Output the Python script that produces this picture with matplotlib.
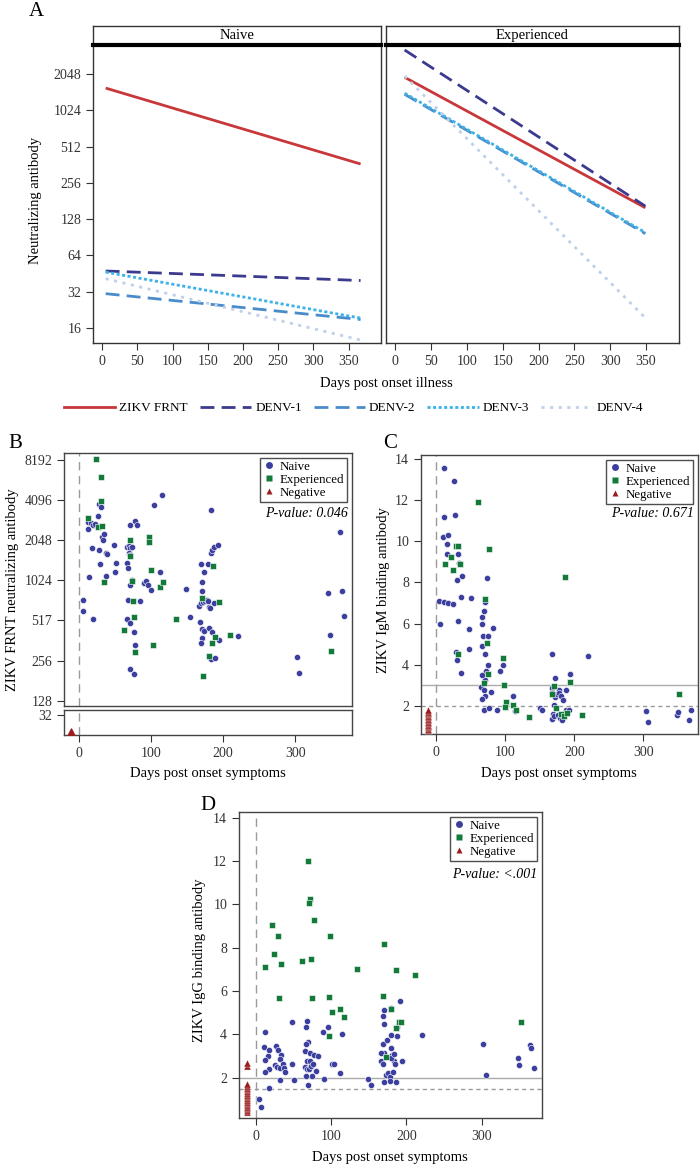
import numpy as np
import matplotlib
matplotlib.use("Agg")
import matplotlib.pyplot as plt
from matplotlib.lines import Line2D

plt.rcParams['font.family'] = ['Liberation Serif', 'DejaVu Serif']

W, H = 700, 1165

# ---------------- panel A: fitted lines ----------------
series_names = ["ZIKV FRNT", "DENV-1", "DENV-2", "DENV-3", "DENV-4"]
naive_days = [5, 367]
naive_start = [1565, 47.5, 30.8, 46.5, 41]
naive_end = [367, 39.6, 18.8, 19.3, 12.7]
exp_days = [13, 349]
exp_start = [1924, 3240, 1390, 1420, 1970]
exp_end = [159, 164, 97, 99, 19.4]
a_yticks = [16, 32, 64, 128, 256, 512, 1024, 2048]
a_xticks = [0, 50, 100, 150, 200, 250, 300, 350]

# ---------------- panel B: FRNT titres ----------------
b_naive_day = [6, 6, 12, 13, 16, 19, 22, 14, 19, 18, 26, 27, 28, 31, 29, 32, 33, 34, 37, 39,
               37, 48, 51, 50, 66, 68, 67, 69, 71, 73, 69, 70, 71, 77, 81, 68, 84, 71, 74, 67,
               70, 76, 78, 70, 76, 90, 93, 96, 100, 104, 115, 112, 149, 154, 168, 169, 170, 171, 167, 169,
               172, 175, 177, 179, 181, 182, 188, 174, 179, 183, 183, 184, 187, 193, 171, 173, 170, 169, 181, 185,
               194, 183, 189, 220, 302, 306, 346, 365, 368, 348, 363]
b_naive_val = [730, 600, 2470, 2820, 2740, 2660, 2700, 1075, 523, 1780, 3100, 1720, 3800, 3660, 1365, 2150, 2050, 2280, 1630, 1600,
               1095, 1885, 1380, 1190, 1380, 1260, 1830, 1850, 1780, 1830, 1650, 1590, 2660, 2840, 2660, 730, 720, 940, 1025, 526,
               487, 422, 335, 220, 204, 982, 1010, 940, 867, 3740, 4440, 1190, 880, 543, 502, 1365, 1000, 850, 657, 687,
               704, 712, 729, 720, 648, 630, 687, 1185, 1365, 3430, 1630, 1730, 1810, 1885, 439, 428, 380, 347, 452, 422,
               367, 265, 269, 391, 274, 208, 826, 850, 553, 396, 2350]
b_exp_day = [23, 31, 31, 13, 26, 32, 35, 70, 70, 74, 75, 76, 62, 77, 97, 97, 100, 112, 117, 102,
             134, 186, 170, 194, 189, 185, 180, 172, 210, 350]
b_exp_val = [8300, 6110, 4010, 3020, 2590, 2630, 995, 2040, 1570, 1020, 720, 543, 436, 297, 2180, 1975, 1225, 907, 995, 335,
             525, 1305, 750, 710, 385, 350, 278, 198, 399, 302]
b_neg_day = [-11]
b_neg_val = [24]
b_yticks = [128, 256, 517, 1024, 2048, 4096, 8192]

# ---------------- panel C: IgM ----------------
c_naive_day = [12, 26, 12, 27, 10, 17, 15, 16, 32, 33, 30, 38, 4, 12, 17, 25, 36, 50, 6, 31,
               47, 28, 30, 36, 47, 73, 70, 69, 67, 67, 68, 75, 82, 67, 70, 75, 72, 71, 67, 65,
               69, 71, 66, 80, 92, 96, 98, 69, 77, 88, 111, 114, 150, 153, 167, 172, 193, 168, 168, 172,
               175, 178, 178, 180, 188, 184, 171, 169, 167, 171, 176, 179, 182, 184, 188, 192, 220, 303, 307, 348,
               350, 369, 366]
c_naive_val = [13.58, 12.96, 11.17, 11.30, 10.23, 10.29, 9.89, 9.40, 9.37, 8.96, 8.13, 8.31, 7.12, 7.04, 7.01, 6.96, 7.30, 7.25, 5.98, 6.11,
               5.72, 4.62, 4.23, 3.61, 4.75, 8.23, 7.06, 6.63, 5.98, 6.31, 5.40, 5.40, 5.79, 4.89, 4.54, 4.00, 3.71, 3.27, 3.48, 2.91,
               2.78, 2.46, 2.34, 2.65, 3.67, 4.00, 2.99, 1.80, 1.89, 1.77, 2.47, 1.72, 1.89, 1.80, 4.54, 3.35, 3.53, 2.85, 2.63, 2.42,
               2.55, 2.78, 2.63, 2.47, 2.75, 2.26, 2.02, 1.61, 1.33, 1.50, 1.53, 1.41, 1.28, 1.61, 1.77, 1.80, 4.44, 1.74, 1.20, 1.53,
               1.67, 1.77, 1.28]
c_exp_day = [60, 13, 21, 24, 29, 31, 34, 76, 70, 31, 74, 75, 69, 97, 98, 101, 99, 111, 116, 135,
             186, 193, 170, 167, 173, 180, 185, 190, 211, 352]
c_exp_val = [11.90, 8.91, 9.24, 8.59, 9.79, 9.76, 8.88, 9.64, 7.19, 4.54, 5.06, 3.53, 3.12, 4.33, 3.01, 2.16, 1.93, 2.02, 1.80, 1.45,
             8.28, 3.15, 2.94, 2.55, 1.90, 1.61, 1.48, 1.64, 1.53, 2.55]
c_neg_val = [0.8, 0.87, 0.94, 1.01, 1.08, 1.15, 1.22, 1.29, 1.36, 1.43, 1.5, 1.57, 1.64, 1.71, 1.78]
c_neg_day = [-12] * len(c_neg_val)

# ---------------- panel D: IgG ----------------
d_naive_day = [13, 11, 18, 16, 13, 18, 13, 18, 5, 7, 27, 30, 34, 32, 26, 28, 32, 36, 38, 39,
               33, 48, 48, 51, 68, 67, 69, 67, 66, 72, 77, 83, 68, 72, 66, 68, 71, 74, 76, 80,
               67, 75, 70, 89, 96, 91, 101, 104, 112, 114, 149, 153, 171, 180, 192, 169, 171, 169, 170, 175,
               180, 180, 181, 167, 166, 169, 173, 176, 178, 182, 184, 185, 180, 183, 187, 188, 194, 171, 178, 186,
               221, 302, 306, 348, 349, 364, 366, 369]
d_naive_val = [4.10, 3.42, 3.30, 2.99, 2.82, 2.39, 2.27, 1.53, 1.01, 0.67, 3.44, 3.30, 3.07, 2.85, 2.58, 2.48, 2.44, 2.64, 2.44, 2.25,
               1.90, 4.59, 2.62, 1.90, 4.62, 4.33, 3.64, 3.56, 3.24, 3.13, 3.05, 3.02, 2.76, 2.76, 2.51, 2.39, 2.39, 2.54, 2.64, 2.33,
               2.08, 2.08, 1.67, 4.13, 4.32, 1.93, 2.62, 2.62, 2.21, 4.01, 1.93, 1.64, 5.13, 5.22, 5.55, 4.85, 4.48, 3.55, 3.13, 3.72,
               3.95, 3.39, 3.05, 3.16, 2.79, 2.64, 2.13, 2.21, 2.05, 2.27, 2.75, 2.64, 2.90, 3.10, 4.32, 3.93, 2.75, 1.79, 1.87, 1.78,
               3.96, 3.56, 2.13, 2.90, 2.58, 3.52, 3.35, 2.44]
d_exp_day = [70, 72, 71, 77, 22, 30, 25, 99, 13, 34, 61, 74, 170, 135, 186, 212, 31, 75, 98, 169,
             112, 102, 117, 180, 190, 193, 186, 98, 173, 352]
d_exp_val = [11.98, 10.26, 10.04, 9.27, 9.06, 8.52, 7.70, 8.52, 7.12, 7.26, 7.39, 7.47, 8.16, 7.00, 6.95, 6.72, 5.69, 5.69, 5.72, 5.78,
             5.15, 5.01, 4.82, 5.18, 4.55, 4.55, 4.27, 3.93, 2.95, 4.55]
d_neg_val = [0.42, 0.5, 0.58, 0.66, 0.74, 0.82, 0.9, 0.98, 1.06, 1.14, 1.22, 1.3, 1.38, 1.46,
             1.54, 1.62, 1.7, 2.55, 2.67]
d_neg_day = [-11] * len(d_neg_val)
lin_yticks = [2, 4, 6, 8, 10, 12, 14]
days_ticks = [0, 100, 200, 300]

# colours / styles
line_colors = ["#C8383A", "#3B3A8F", "#4A8CCB", "#3DB2E8", "#BFD0EC"]
line_dash = ["-", (0, (5, 2.6)), (0, (5, 2.6)), (0, (1.1, 0.9)), (0, (1.1, 2.0))]
c_naive = "#3C3F9E"
c_exp = "#137A3A"
c_neg = "#9B1C1C"
frame_col = "#444444"


def frac(x0, y0, x1, y1):
    return [x0 / W, 1 - y1 / H, (x1 - x0) / W, (y1 - y0) / H]


def style_axes(ax):
    for s in ax.spines.values():
        s.set_color(frame_col)
        s.set_linewidth(1.0)
    ax.tick_params(colors="#333333", labelsize=10, length=5, width=0.8, direction="out")


fig = plt.figure(figsize=(W / 100, H / 100), dpi=100)

# ---------- Panel A ----------
panelsA = [("Naive", (93, 381), naive_days, naive_start, naive_end),
           ("Experienced", (386, 679), exp_days, exp_start, exp_end)]
for k, (title, (x0, x1), dd, st, en) in enumerate(panelsA):
    ax = fig.add_axes(frac(x0, 45, x1, 343))
    style_axes(ax)
    for s in ax.spines.values():
        s.set_color("#333333")
    ax.set_yscale("log", base=2)
    for i in range(5):
        ax.plot(dd, [st[i], en[i]], color=line_colors[i], ls=line_dash[i], lw=2.0,
                solid_capstyle="butt", dash_capstyle="butt")
    ax.set_ylim(12, 3565)
    ax.set_xlim(-13, 396)
    ax.set_xticks(a_xticks)
    ax.set_xticklabels([str(t) for t in a_xticks])
    ax.set_yticks(a_yticks)
    ax.yaxis.set_minor_locator(matplotlib.ticker.NullLocator())
    if k == 0:
        ax.set_yticklabels([str(t) for t in a_yticks])
    else:
        ax.tick_params(axis="y", left=False, labelleft=False)
    # strip
    sax = fig.add_axes(frac(x0, 26, x1, 45))
    sax.set_xticks([])
    sax.set_yticks([])
    for s in sax.spines.values():
        s.set_color("#333333")
        s.set_linewidth(1.0)
    sax.spines["bottom"].set_linewidth(3.0)
    sax.spines["bottom"].set_color("black")
    sax.text(0.5, 0.5, title, ha="center", va="center", fontsize=10.5, transform=sax.transAxes)

fig.text(36 / W, 1 - 12 / H, "A", fontsize=15, ha="center", va="center")
fig.text(36 / W, 1 - 200 / H, "Neutralizing antibody", rotation=90, fontsize=10.5,
         ha="center", va="center")
fig.text(386 / W, 1 - 384 / H, "Days post onset illness", fontsize=10.5, ha="center", va="center")

handles = [Line2D([0], [0], color=line_colors[i], ls=line_dash[i], lw=2.0) for i in range(5)]
fig.legend(handles, series_names, loc="center", bbox_to_anchor=(0.505, 1 - 408 / H), ncol=5,
           frameon=False, handlelength=3.9, columnspacing=0.9, handletextpad=0.3, fontsize=9.5)


def scatter_groups(ax, nd, nv, ed, ev, gd, gv):
    ax.scatter(nd, nv, s=20, marker="o", color=c_naive, edgecolors="white", linewidths=0.4, zorder=3)
    ax.scatter(ed, ev, s=20, marker="s", color=c_exp, edgecolors="white", linewidths=0.4, zorder=3)
    ax.scatter(gd, gv, s=26, marker="^", color=c_neg, edgecolors="white", linewidths=0.25, zorder=3)


def group_legend(ax):
    hs = [Line2D([0], [0], marker="o", color="none", markerfacecolor=c_naive, markeredgecolor="none", markersize=5),
          Line2D([0], [0], marker="s", color="none", markerfacecolor=c_exp, markeredgecolor="none", markersize=5),
          Line2D([0], [0], marker="^", color="none", markerfacecolor=c_neg, markeredgecolor="none", markersize=5)]
    leg = ax.legend(hs, ["Naive", "Experienced", "Negative"], loc="upper right", fontsize=9.3,
                    frameon=True, fancybox=False, borderaxespad=0.35, handlelength=0.9,
                    handletextpad=0.35, labelspacing=0.08, borderpad=0.25)
    leg.get_frame().set_edgecolor("#222222")
    leg.get_frame().set_linewidth(1.0)


# ---------- Panel B ----------
axB = fig.add_axes(frac(64, 453, 352, 706))
style_axes(axB)
axB.set_yscale("log", base=2)
axB.set_ylim(2 ** 6.87, 2 ** 13.17)
axB.set_xlim(-21, 379)
axB.set_yticks(b_yticks)
axB.set_yticklabels([str(t) for t in b_yticks])
axB.yaxis.set_minor_locator(matplotlib.ticker.NullLocator())
axB.tick_params(axis="x", bottom=False, labelbottom=False)
axB.axvline(0, color="#9a9a9a", ls=(0, (6, 4)), lw=1.0, zorder=1)
scatter_groups(axB, b_naive_day, b_naive_val, b_exp_day, b_exp_val, [], [])
group_legend(axB)
axB.text(0.985, 0.762, "P-value: 0.046", transform=axB.transAxes, ha="right", va="center",
         style="italic", fontsize=10)

axB2 = fig.add_axes(frac(64, 710, 352, 735))
style_axes(axB2)
axB2.set_yscale("log", base=2)
axB2.set_ylim(2 ** 4.5, 2 ** 5.125)
axB2.set_xlim(-21, 379)
axB2.set_yticks([32])
axB2.set_yticklabels(["32"])
axB2.yaxis.set_minor_locator(matplotlib.ticker.NullLocator())
axB2.set_xticks(days_ticks)
axB2.set_xticklabels([str(t) for t in days_ticks])
axB2.axvline(0, color="#9a9a9a", ls=(0, (6, 4)), lw=1.0, zorder=1)
axB2.scatter(b_neg_day, b_neg_val, s=26, marker="^", color=c_neg, zorder=3)

fig.text(8 / W, 1 - 443 / H, "B", fontsize=15, ha="left", va="center")
fig.text(13 / W, 1 - 590 / H, "ZIKV FRNT neutralizing antibody", rotation=90, fontsize=10.5,
         ha="center", va="center")
fig.text(208 / W, 1 - 773 / H, "Days post onset symptoms", fontsize=10.5, ha="center", va="center")

# ---------- Panel C ----------
axC = fig.add_axes(frac(421, 455, 698, 734))
style_axes(axC)
axC.set_ylim(0.62, 14.21)
axC.set_xlim(-22, 379)
axC.set_yticks(lin_yticks)
axC.set_xticks(days_ticks)
axC.axvline(0, color="#9a9a9a", ls=(0, (6, 4)), lw=1.0, zorder=1)
axC.axhline(3, color="#aaaaaa", lw=1.0, zorder=1)
axC.axhline(2, color="#9a9a9a", ls=(0, (3, 2.5)), lw=1.0, zorder=1)
scatter_groups(axC, c_naive_day, c_naive_val, c_exp_day, c_exp_val, c_neg_day, c_neg_val)
group_legend(axC)
axC.text(0.985, 0.79, "P-value: 0.671", transform=axC.transAxes, ha="right", va="center",
         style="italic", fontsize=10)
fig.text(383 / W, 1 - 443 / H, "C", fontsize=15, ha="left", va="center")
fig.text(384 / W, 1 - 590 / H, "ZIKV IgM binding antibody", rotation=90, fontsize=10.5,
         ha="center", va="center")
fig.text(559 / W, 1 - 773 / H, "Days post onset symptoms", fontsize=10.5, ha="center", va="center")

# ---------- Panel D ----------
axD = fig.add_axes(frac(239, 812, 542, 1118))
style_axes(axD)
axD.set_ylim(0.14, 14.26)
axD.set_xlim(-22, 380)
axD.set_yticks(lin_yticks)
axD.set_xticks(days_ticks)
axD.axvline(0, color="#9a9a9a", ls=(0, (6, 4)), lw=1.0, zorder=1)
axD.axhline(2, color="#aaaaaa", lw=1.0, zorder=1)
axD.axhline(1.5, color="#9a9a9a", ls=(0, (3, 2.5)), lw=1.0, zorder=1)
scatter_groups(axD, d_naive_day, d_naive_val, d_exp_day, d_exp_val, d_neg_day, d_neg_val)
group_legend(axD)
axD.text(0.985, 0.795, "P-value: <.001", transform=axD.transAxes, ha="right", va="center",
         style="italic", fontsize=10)
fig.text(200 / W, 1 - 806 / H, "D", fontsize=15, ha="left", va="center")
fig.text(200 / W, 1 - 960 / H, "ZIKV IgG binding antibody", rotation=90, fontsize=10.5,
         ha="center", va="center")
fig.text(390 / W, 1 - 1157 / H, "Days post onset symptoms", fontsize=10.5, ha="center", va="center")

fig.savefig("out.png", dpi=100)
